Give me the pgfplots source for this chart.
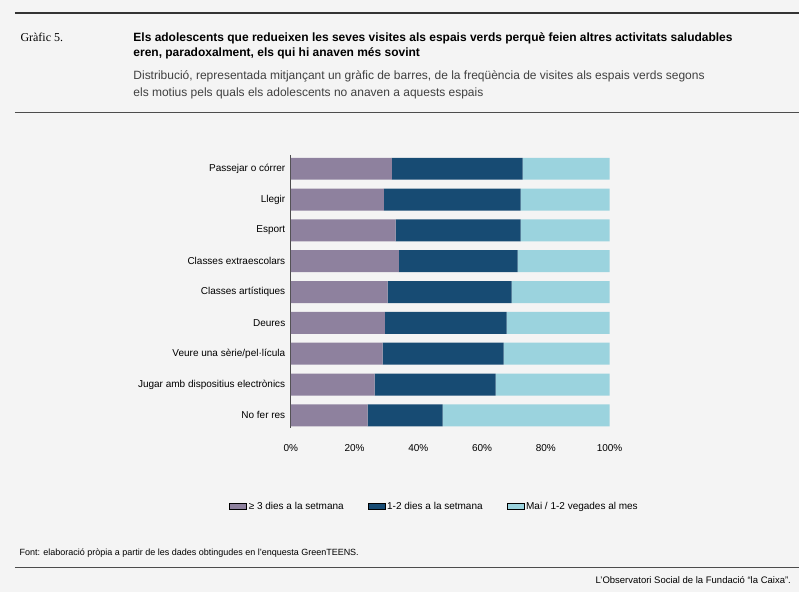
\documentclass[border=0pt]{standalone}
\usepackage{pgfplots}
\pgfplotsset{compat=1.18}
\usepackage{fontspec}
\setmainfont{Liberation Sans}
\newfontfamily\serif{Liberation Serif}
\definecolor{cA}{HTML}{8E819E}
\definecolor{cB}{HTML}{174B73}
\definecolor{cC}{HTML}{9BD3DE}
\definecolor{bg}{HTML}{F4F4F4}
\begin{document}
\begin{tikzpicture}[x=1pt,y=1pt]
\fill[bg] (0,0) rectangle (800,592);
\draw[line width=1.2pt,black!80] (15,579) -- (800,579);
\draw[line width=0.8pt,black!70] (15,480) -- (800,480);
\draw[line width=0.8pt,black!70] (15,24) -- (800,24);
\node[anchor=base west,font=\serif\fontsize{12}{14}\selectfont] at (17,550) {Gràfic 5.};
\node[anchor=base west,font=\bfseries\fontsize{12}{14}\selectfont] at (130,550) {Els adolescents que redueixen les seves visites als espais verds perquè feien altres activitats saludables};
\node[anchor=base west,font=\bfseries\fontsize{12}{14}\selectfont] at (130,535) {eren, paradoxalment, els qui hi anaven més sovint};
\node[anchor=base west,font=\fontsize{12}{14}\selectfont,text=black!75] at (130,512) {Distribució, representada mitjançant un gràfic de barres, de la freqüència de visites als espais verds segons};
\node[anchor=base west,font=\fontsize{12}{14}\selectfont,text=black!75] at (130,495) {els motius pels quals els adolescents no anaven a aquests espais};
\node[anchor=base west,font=\fontsize{9}{11}\selectfont] at (16,36) {Font: elaboració pròpia a partir de les dades obtingudes en l’enquesta GreenTEENS.};
\node[anchor=base east,font=\fontsize{9.5}{11}\selectfont] at (795,8) {L’Observatori Social de la Fundació “la Caixa”.};
\begin{axis}[at={(291pt,164pt)},anchor=south west,scale only axis,width=319pt,height=273pt,
  xbar stacked,bar width=22pt,y dir=reverse,
  xmin=0,xmax=100,ymin=-0.45,ymax=8.4,
  ytick={0,...,8},
  yticklabels={Passejar o córrer,Llegir,Esport,Classes extraescolars,Classes artístiques,Deures,Veure una sèrie/pel·lícula,Jugar amb dispositius electrònics,No fer res},
  xtick={0,20,...,100},xticklabel={\pgfmathprintnumber{\tick}\%},
  /pgf/number format/assume math mode=true,
  axis x line*=bottom, x axis line style={draw=none},
  axis y line*=left, y axis line style={black!70,line width=0.8pt},
  major tick length=0pt,
  ticklabel style={font=\fontsize{10}{12}\selectfont},
  yticklabel style={xshift=-2pt},
  xticklabel style={yshift=-13pt},
  legend style={at={(0.451,-0.289)},anchor=center,draw=none,fill=none,
    legend columns=3,font=\fontsize{10}{12}\selectfont,
    /tikz/every even column/.append style={column sep=22pt}},
  ]
\addplot[fill=cA,draw=none,area legend] coordinates {(31.7,0)(29.2,1)(32.9,2)(33.9,3)(30.4,4)(29.5,5)(28.8,6)(26.3,7)(24.1,8)};
\addplot[fill=cB,draw=none,area legend] coordinates {(41.0,0)(42.9,1)(39.2,2)(37.3,3)(38.9,4)(38.2,5)(38.0,6)(38.0,7)(23.5,8)};
\addplot[fill=cC,draw=none,area legend] coordinates {(27.3,0)(27.9,1)(27.9,2)(28.8,3)(30.7,4)(32.3,5)(33.2,6)(35.7,7)(52.4,8)};
\legend{≥ 3 dies a la setmana,1-2 dies a la setmana,Mai / 1-2 vegades al mes}
\end{axis}
\end{tikzpicture}
\end{document}
